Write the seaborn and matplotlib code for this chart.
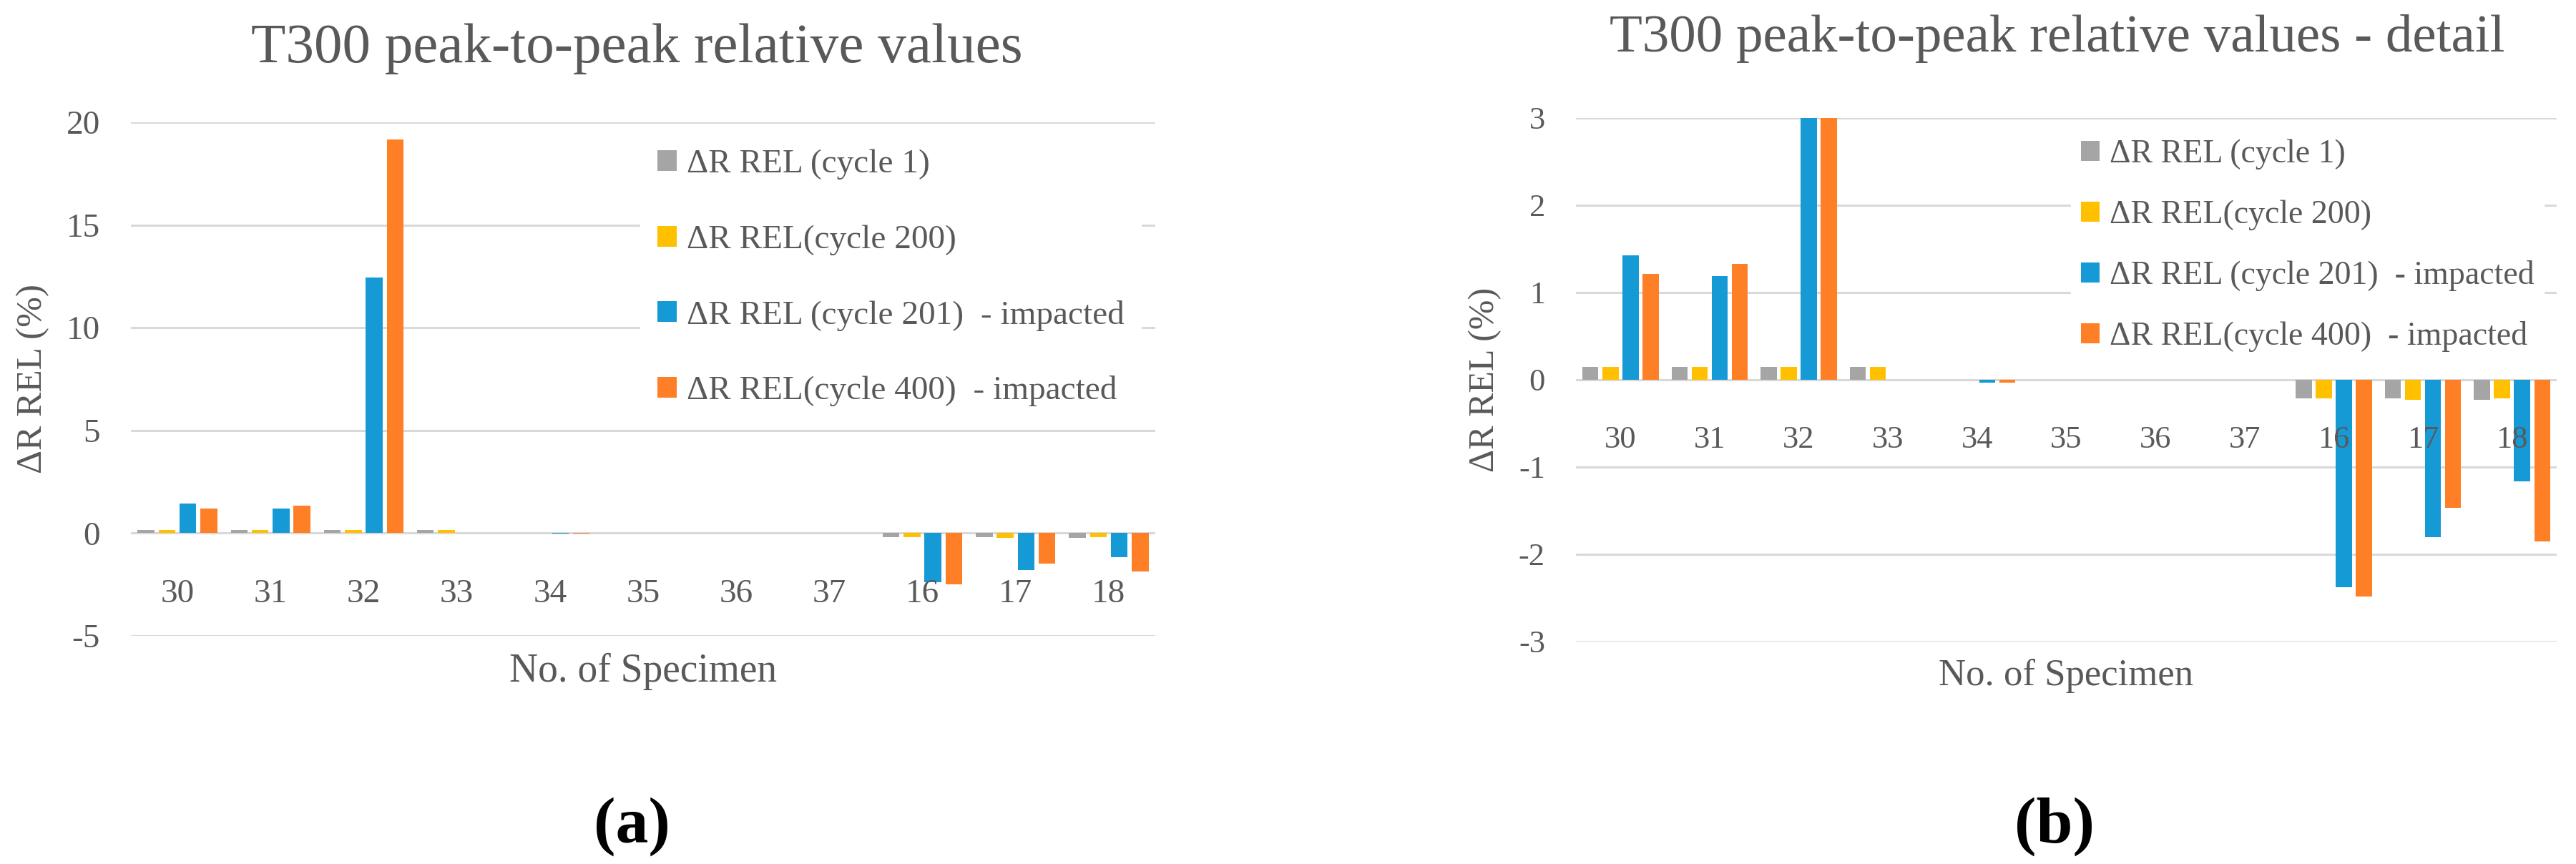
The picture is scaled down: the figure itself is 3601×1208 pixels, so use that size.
import numpy as np
import pandas as pd
import matplotlib
matplotlib.use("Agg")
import matplotlib.pyplot as plt
import seaborn as sns

# values
specimens = ["30", "31", "32", "33", "34", "35", "36", "37", "16", "17", "18"]
series = ["ΔR REL (cycle 1)", "ΔR REL(cycle 200)",
          "ΔR REL (cycle 201)  - impacted", "ΔR REL(cycle 400)  - impacted"]
cycle_1 = [0.15, 0.15, 0.15, 0.15, 0, 0, 0, 0, -0.21, -0.21, -0.23]
cycle_200 = [0.15, 0.15, 0.15, 0.15, 0, 0, 0, 0, -0.21, -0.23, -0.21]
cycle_201 = [1.43, 1.19, 12.45, 0, -0.03, 0, 0, 0, -2.38, -1.80, -1.16]
cycle_400 = [1.21, 1.33, 19.15, 0, -0.03, 0, 0, 0, -2.48, -1.47, -1.85]
colors = ["#A5A5A5", "#FFC000", "#169AD6", "#FF7F27"]

df = pd.DataFrame({
    "specimen": specimens * 4,
    "series": np.repeat(series, len(specimens)),
    "value": cycle_1 + cycle_200 + cycle_201 + cycle_400,
})

sns.set_theme(style="white")
plt.rcParams["font.family"] = ["Liberation Serif", "DejaVu Serif"]
plt.rcParams["axes.unicode_minus"] = False
text_col = "#595959"
grid_col = "#D9D9D9"

W, H = 3601, 1208
fig = plt.figure(figsize=(W / 100, H / 100), dpi=100)


def panel(rect, ylim, yticks, title, title_x, title_y, fs, leg):
    ax = fig.add_axes(rect)
    sns.barplot(data=df, x="specimen", y="value", hue="series", order=specimens,
                hue_order=series, palette=colors, saturation=1, width=0.9, gap=0.2,
                linewidth=0, errorbar=None, ax=ax)
    ax.set_ylim(*ylim)
    ax.set_yticks(yticks)
    # gridlines behind the bars, tick labels on top (as in the Excel chart)
    for y in yticks:
        ax.axhline(y, color=grid_col, linewidth=2.2, zorder=0)
    ax.set_axisbelow(False)
    ax.xaxis.set_zorder(5)
    for s in ["left", "right", "top"]:
        ax.spines[s].set_visible(False)
    ax.spines["bottom"].set_position(("data", 0))
    ax.spines["bottom"].set_visible(False)
    ax.tick_params(axis="x", length=0, pad=46, labelsize=fs["tick"], labelcolor=text_col)
    ax.tick_params(axis="y", length=0, pad=31, labelsize=fs["tick"], labelcolor=text_col)
    ax.set_title(title, x=title_x, y=title_y, va="baseline", pad=0,
                 fontsize=fs["title"], color=text_col)
    ax.set_ylabel("ΔR REL (%)", fontsize=fs["label"], color=text_col)
    ax.yaxis.set_label_coords(fs["ylab_x"], 0.5)
    ax.yaxis.label.set_va("center")
    ax.set_xlabel("No. of Specimen", fontsize=fs["xlabel"], color=text_col)
    ax.xaxis.set_label_coords(0.5, fs["xlab_y"])
    ax.xaxis.label.set_va("baseline")
    handles, labels = ax.get_legend_handles_labels()
    ax.legend(handles, labels, loc="upper left", bbox_to_anchor=leg["anchor"],
              borderaxespad=0, borderpad=leg["pad"], frameon=True, facecolor="white",
              edgecolor="white", framealpha=1, fontsize=fs["legend"],
              labelcolor=text_col, handlelength=0.57, handleheight=0.57,
              handletextpad=0.3, labelspacing=leg["spacing"])
    return ax


panel([183 / W, 1 - 889 / H, 1432 / W, 718 / H], (-5, 20), [-5, 0, 5, 10, 15, 20],
      "T300 peak-to-peak relative values", 0.494, 1.117,
      {"tick": 34, "title": 57, "label": 37, "xlabel": 40, "legend": 34,
       "ylab_x": -0.0957, "xlab_y": -0.089},
      {"anchor": (0.4975, 0.980), "pad": 0.5, "spacing": 1.33})

panel([2203 / W, 1 - 897 / H, 1371 / W, 732 / H], (-3, 3), [-3, -2, -1, 0, 1, 2, 3],
      "T300 peak-to-peak relative values - detail", 0.491, 1.127,
      {"tick": 32, "title": 54, "label": 36, "xlabel": 38, "legend": 33,
       "ylab_x": -0.0926, "xlab_y": -0.083},
      {"anchor": (0.5047, 0.978), "pad": 0.3, "spacing": 0.92})

fig.text(883 / W, 1 - 1156 / H, "(a)", ha="center", va="center",
         fontsize=66, fontweight="bold", color="black")
fig.text(2872 / W, 1 - 1156 / H, "(b)", ha="center", va="center",
         fontsize=66, fontweight="bold", color="black")

fig.savefig("out.png", dpi=100, facecolor="white")
